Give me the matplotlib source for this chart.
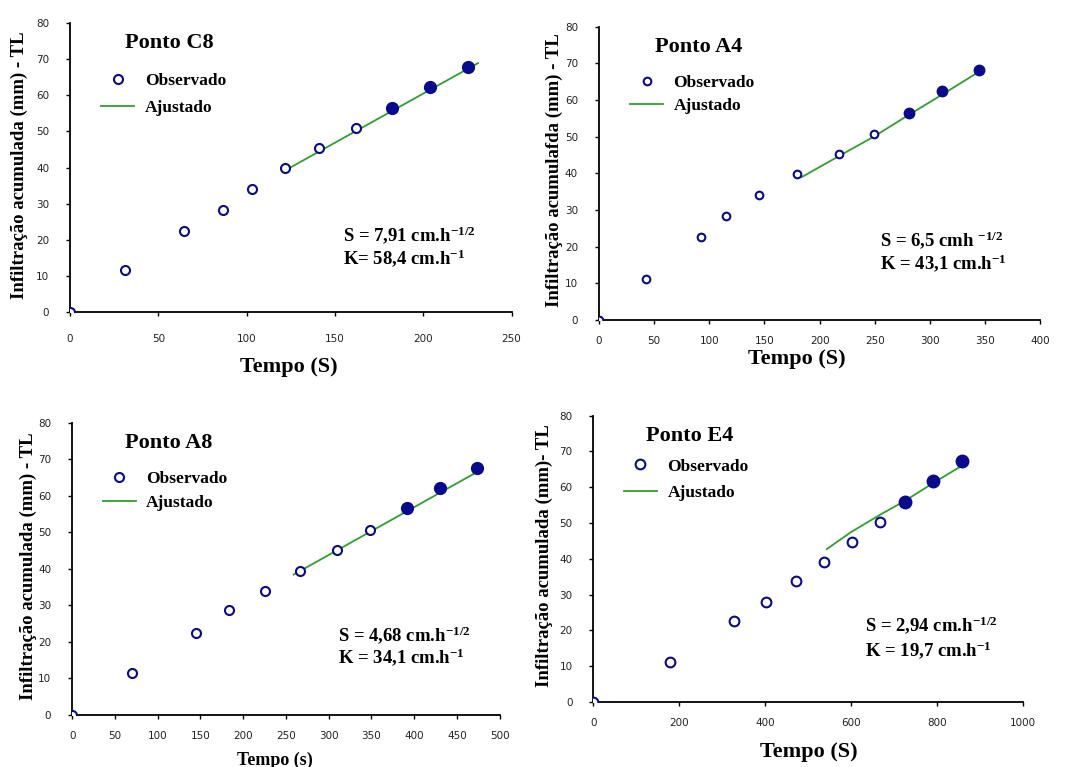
import matplotlib
matplotlib.use('Agg')
import matplotlib.pyplot as plt

# ---- data ----
# Ponto C8
t_c8 = [0, 31, 64.5, 86.5, 103, 121.5, 141, 162, 182.5, 204, 225.5]
i_c8 = [0, 11.6, 22.5, 28.3, 34.2, 39.8, 45.3, 51.0, 56.5, 62.4, 67.9]
tfit_c8 = [121, 231]
ifit_c8 = [39.0, 68.9]

# Ponto A4
t_a4 = [0, 42.5, 93, 115, 145, 179.5, 218, 249, 281, 311, 344.5]
i_a4 = [0, 11.1, 22.6, 28.4, 34.2, 39.7, 45.2, 50.8, 56.6, 62.5, 68.2]
tfit_a4 = [184, 218, 249, 281, 311, 349]
ifit_a4 = [39.0, 44.8, 50.0, 56.0, 61.5, 68.6]

# Ponto A8
t_a8 = [0, 70, 145, 183, 225, 267, 310, 348, 391, 430, 473.5]
i_a8 = [0, 11.4, 22.4, 28.6, 33.9, 39.4, 45.0, 50.7, 56.5, 62.1, 67.7]
tfit_a8 = [259, 479]
ifit_a8 = [38.4, 67.2]

# Ponto E4
t_e4 = [0, 178, 326.5, 401.5, 472, 535.5, 601.5, 667, 725, 791, 858.5]
i_e4 = [0, 11.1, 22.6, 28.0, 33.7, 39.2, 44.8, 50.3, 56.0, 61.8, 67.2]
tfit_e4 = [543, 600, 667, 725, 791, 853]
ifit_e4 = [42.7, 47.5, 52.3, 56.2, 61.2, 65.7]

titles = ["Ponto C8", "Ponto A4", "Ponto A8", "Ponto E4"]
xlabels = ["Tempo (S)", "Tempo (S)", "Tempo (s)", "Tempo (S)"]
ylabels = ["Infiltração acumulada (mm) - TL",
           "Infiltração acumulafda (mm) - TL",
           "Infiltração acumulada (mm) - TL",
           "Infiltração acumulada (mm)- TL"]
s_texts = ["S = 7,91 cm.h$^{-1/2}$", "S = 6,5 cmh $^{-1/2}$",
           "S = 4,68 cm.h$^{-1/2}$", "S = 2,94 cm.h$^{-1/2}$"]
k_texts = ["K= 58,4 cm.h$^{-1}$", "K = 43,1 cm.h$^{-1}$",
           "K = 34,1 cm.h$^{-1}$", "K = 19,7 cm.h$^{-1}$"]
xmax = [250, 400, 500, 1000]
xstep = [50, 50, 50, 200]
n_filled = 3

NAVY = "#0a0a8c"
GREEN = "#2ea02e"
SERIF = "Liberation Serif"

plt.rcParams['mathtext.fontset'] = 'custom'
plt.rcParams['mathtext.rm'] = 'Liberation Serif:bold'
plt.rcParams['mathtext.default'] = 'rm'

fig = plt.figure(figsize=(10.77, 7.67), dpi=100)

# axes rectangles (figure fractions)
rects = [[0.065, 0.593, 0.410, 0.377],
         [0.556, 0.583, 0.410, 0.382],
         [0.067, 0.068, 0.397, 0.381],
         [0.551, 0.085, 0.399, 0.373]]
ylab_x = [-0.095, -0.082, -0.082, -0.095]
xlab_y = [-0.155, -0.10, -0.125, -0.14]
xlab_x = [0.496, 0.449, 0.474, 0.502]
xlab_size = [16, 16, 13, 16]
xpad = [13, 8.5, 8.5, 9]
mk_size = [6.5, 5.5, 6.5, 7.0]
ann_x = [0.618, 0.637, 0.621, 0.633]
ann_s_y = [0.266, 0.273, 0.274, 0.269]
ann_k_y = [0.187, 0.195, 0.199, 0.182]
leg_anchor = [(0.055, 0.85), (0.055, 0.86), (0.055, 0.86), (0.055, 0.875)]
leg_space = [0.62, 0.38, 0.45, 0.62]

panels = [(t_c8, i_c8, tfit_c8, ifit_c8),
          (t_a4, i_a4, tfit_a4, ifit_a4),
          (t_a8, i_a8, tfit_a8, ifit_a8),
          (t_e4, i_e4, tfit_e4, ifit_e4)]

for k, (t, inf, tf, inff) in enumerate(panels):
    ax = fig.add_axes(rects[k])
    ax.plot(tf, inff, color=GREEN, lw=1.3, label="Ajustado", zorder=2)
    ax.plot(t[:-n_filled], inf[:-n_filled], 'o', mfc='white', mec=NAVY,
            mew=1.5, ms=mk_size[k], label="Observado", zorder=3)
    ax.plot(t[-n_filled:], inf[-n_filled:], 'o', mfc=NAVY, mec=NAVY,
            mew=1.5, ms=mk_size[k] + 1.5, zorder=3)

    ax.set_xlim(0, xmax[k])
    ax.set_ylim(0, 80)
    ax.set_xticks(range(0, xmax[k] + 1, xstep[k]))
    ax.set_yticks(range(0, 81, 10))
    for side in ["top", "right"]:
        ax.spines[side].set_visible(False)
    for side in ["left", "bottom"]:
        ax.spines[side].set_linewidth(1.3)
    ax.tick_params(direction='out', length=3, width=1,
                   labelsize=7.5, labelcolor='#222222')
    ax.tick_params(axis='x', pad=xpad[k])
    ax.tick_params(axis='y', pad=12)
    ax.patch.set_alpha(0)

    ax.set_xlabel(xlabels[k], family=SERIF, fontweight='bold', fontsize=xlab_size[k])
    ax.xaxis.set_label_coords(xlab_x[k], xlab_y[k])
    ax.set_ylabel(ylabels[k], family=SERIF, fontweight='bold', fontsize=13.5)
    ax.yaxis.set_label_coords(ylab_x[k], 0.51)

    ax.text(0.225, 0.93, titles[k], transform=ax.transAxes, ha='center', va='center',
            family=SERIF, fontweight='bold', fontsize=16)
    ax.text(ann_x[k], ann_s_y[k], s_texts[k], transform=ax.transAxes, ha='left',
            va='center', family=SERIF, fontweight='bold', fontsize=13.5)
    ax.text(ann_x[k], ann_k_y[k], k_texts[k], transform=ax.transAxes, ha='left',
            va='center', family=SERIF, fontweight='bold', fontsize=13.5)

    h, l = ax.get_legend_handles_labels()
    ax.legend(h[::-1], l[::-1], loc='upper left', bbox_to_anchor=leg_anchor[k],
              frameon=False, borderaxespad=0, handlelength=1.9, handletextpad=0.6,
              labelspacing=leg_space[k],
              prop={'family': SERIF, 'weight': 'bold', 'size': 12.5})

fig.savefig("out.png", dpi=100)
